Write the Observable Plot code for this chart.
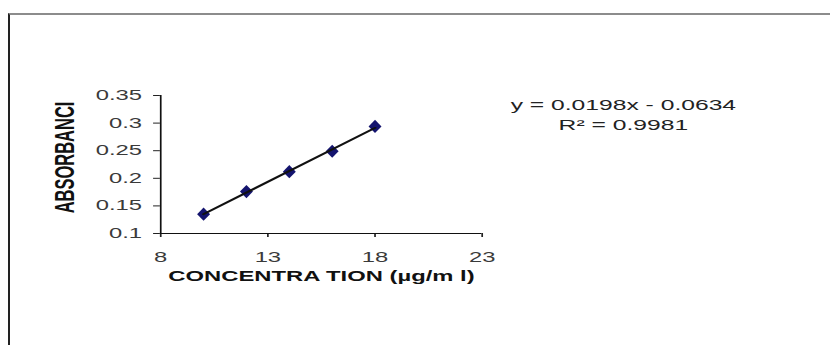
<!DOCTYPE html>
<html><head><meta charset="utf-8">
<script src="https://cdn.jsdelivr.net/npm/d3@7"></script>
<script src="https://cdn.jsdelivr.net/npm/@observablehq/plot@0.6"></script>
<style>
body{margin:0;background:#fff;}
#wrap{position:relative;width:830px;height:345px;overflow:hidden;}
#wrap svg{position:absolute;left:0;top:0;}
#border{position:absolute;left:8px;top:13px;width:900px;height:400px;border-left:2px solid #222;border-top:2px solid #8c8c8c;pointer-events:none;}
</style></head><body><div id="wrap"><div id="border"></div></div>
<script>
const concentration = [10, 12, 14, 16, 18];
const absorbance = [0.135, 0.176, 0.212, 0.249, 0.294];
const xTicks = [8, 13, 18, 23];
const yTicks = [0.1, 0.15, 0.2, 0.25, 0.3, 0.35];
const slope = 0.0198, intercept = 0.0634, rSquared = 0.9981;
const xLabel = "CONCENTRA TION (µg/m l)";
const yLabel = "ABSORBANCI";

const data = concentration.map((c, i) => ({c, a: absorbance[i]}));
const W0 = 488, H = 345;
const font = "'Liberation Sans', Arial, sans-serif";

const chart = Plot.plot({
  width: W0, height: H,
  marginLeft: 94, marginRight: 205, marginTop: 95, marginBottom: 112,
  style: {fontFamily: font, background: "white", overflow: "visible"},
  x: {domain: [xTicks[0], xTicks[xTicks.length - 1]]},
  y: {domain: [yTicks[0], yTicks[yTicks.length - 1]]},
  marks: [
    Plot.axisX({ticks: xTicks, tickSize: 4, tickPadding: 15, fontSize: 14, fill: "#3a3a3a", stroke: "#222", label: null, tickFormat: d => String(d)}),
    Plot.axisY({ticks: yTicks, tickSize: 4, tickPadding: 7, fontSize: 14, fill: "#3a3a3a", stroke: "#222", label: null, tickFormat: d => String(d)}),
    Plot.ruleX([xTicks[0]], {stroke: "#111"}),
    Plot.ruleY([yTicks[0]], {stroke: "#111"}),
    Plot.dot(data, {x: "c", y: "a", symbol: "diamond", r: 4, fill: "#14146e", stroke: "none"}),
    Plot.linearRegressionY(data, {x: "c", y: "a", ci: 0, stroke: "#111", strokeWidth: 1.8}),
    Plot.text([xLabel], {frameAnchor: "bottom", dy: 47, fontSize: 14, fontWeight: "bold", fill: "#111"}),
    Plot.text([yLabel], {frameAnchor: "left", textAnchor: "middle", dx: -56, dy: -7, rotate: -90, fontSize: 16.5, fontWeight: "bold", fill: "#111"}),
    Plot.text([`y = ${slope}x - ${intercept}\nR² = ${rSquared}`], {frameAnchor: "top-right", textAnchor: "middle", lineAnchor: "middle", dx: 83, dy: 18, fontSize: 14.5, lineHeight: 1.38, fill: "#222"})
  ]
});
chart.setAttribute("width", 830);
chart.setAttribute("height", H);
chart.setAttribute("viewBox", `0 0 ${W0} ${H}`);
chart.setAttribute("preserveAspectRatio", "none");
chart.style.width = "830px";
chart.style.height = H + "px";
chart.style.maxWidth = "none";
const wrap = document.getElementById("wrap");
wrap.insertBefore(chart, wrap.firstChild);
</script>
</body></html>
